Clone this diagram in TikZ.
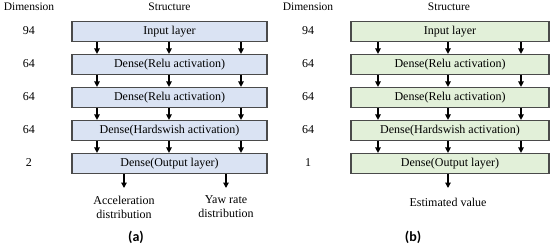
\documentclass[tikz,border=0pt]{standalone}
\usepackage{fontspec}
\setmainfont{Liberation Serif}
\newfontfamily\capfont{Carlito}
\usetikzlibrary{arrows.meta}
\definecolor{bluefill}{HTML}{DAE3F3}
\definecolor{greenfill}{HTML}{E2F0D9}
\definecolor{edgegray}{HTML}{4A4A4A}
\begin{document}
\begin{tikzpicture}[x=1pt,y=-1pt,
  layerbox/.style={draw=edgegray,line width=1.2pt,minimum height=20pt,inner sep=0pt,font=\fontsize{12}{14}\selectfont},
  bluebox/.style={layerbox,fill=bluefill,minimum width=195pt},
  greenbox/.style={layerbox,fill=greenfill,minimum width=198pt},
  lbl/.style={font=\fontsize{12}{14}\selectfont,inner sep=0pt},
  hdr/.style={font=\fontsize{11.5}{13}\selectfont,inner sep=0pt},
  arr/.style={line width=1.3pt,-{Triangle[length=5.5pt,width=5.5pt]}},
  captxt/.style={font=\capfont\bfseries\fontsize{14}{16}\selectfont,inner sep=0pt}]
\useasboundingbox (0,0) rectangle (550,249);
% ---------- panel (a)
\node[hdr] (ha) at (29,7) {Dimension};
\node[hdr] (sa) at (169.5,7) {Structure};
\node[bluebox] (a1) at (169.5,31.5) {Input layer};
\node[bluebox] (a2) at (169.5,64.5) {Dense(Relu activation)};
\node[bluebox] (a3) at (169.5,97.5) {Dense(Relu activation)};
\node[bluebox] (a4) at (169.5,130.5) {Dense(Hardswish activation)};
\node[bluebox] (a5) at (169.5,163.5) {Dense(Output layer)};
\node[lbl] (da1) at (29,31) {94};
\node[lbl] (da2) at (29,64) {64};
\node[lbl] (da3) at (29,97) {64};
\node[lbl] (da4) at (29,130) {64};
\node[lbl] (da5) at (29,163) {2};
\foreach \u/\v in {a1/a2,a2/a3,a3/a4,a4/a5}{
  \foreach \xx in {97,169,241}{
    \draw[arr] (\u.south -| \xx,0) -- (\v.north -| \xx,0);
  }
}
\node[lbl,align=center] (oa1) at (124,207) {Acceleration\\distribution};
\node[lbl,align=center] (oa2) at (226,207) {Yaw rate\\distribution};
\coordinate (ta1) at (124,188);
\coordinate (ta2) at (226,188);
\draw[arr] (a5.south -| ta1) -- (ta1);
\draw[arr] (a5.south -| ta2) -- (ta2);
\node[captxt] (capa) at (136,237) {(a)};
% ---------- panel (b)
\node[hdr] (hb) at (308,7) {Dimension};
\node[hdr] (sb) at (449,7) {Structure};
\node[greenbox] (b1) at (450,31.5) {Input layer};
\node[greenbox] (b2) at (450,64.5) {Dense(Relu activation)};
\node[greenbox] (b3) at (450,97.5) {Dense(Relu activation)};
\node[greenbox] (b4) at (450,130.5) {Dense(Hardswish activation)};
\node[greenbox] (b5) at (450,163.5) {Dense(Output layer)};
\node[lbl] (db1) at (308,31) {94};
\node[lbl] (db2) at (308,64) {64};
\node[lbl] (db3) at (308,97) {64};
\node[lbl] (db4) at (308,130) {64};
\node[lbl] (db5) at (308,163) {1};
\foreach \u/\v in {b1/b2,b2/b3,b3/b4,b4/b5}{
  \foreach \xx in {378,448,521}{
    \draw[arr] (\u.south -| \xx,0) -- (\v.north -| \xx,0);
  }
}
\node[lbl] (ob1) at (448,202) {Estimated value};
\coordinate (tb1) at (448,188);
\draw[arr] (b5.south -| tb1) -- (tb1);
\node[captxt] (capb) at (413,237) {(b)};
\end{tikzpicture}
\end{document}
